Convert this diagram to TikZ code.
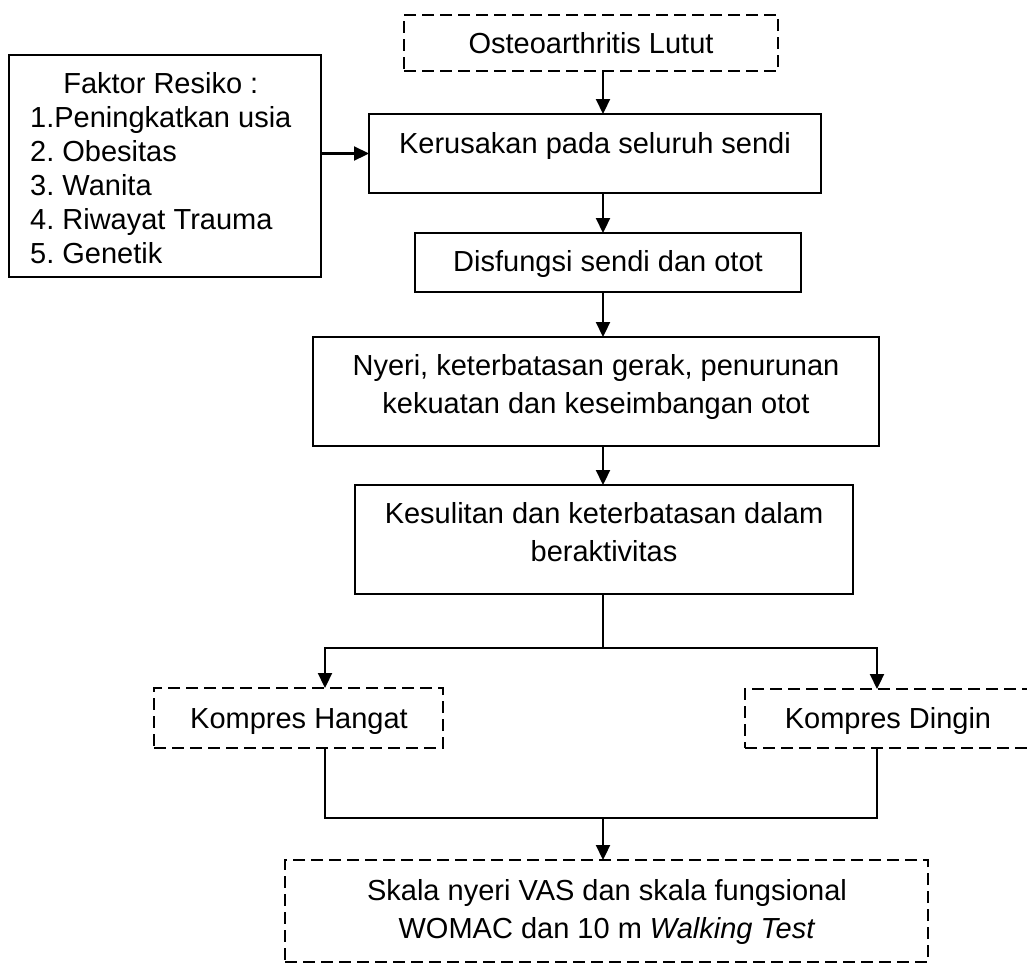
\documentclass[tikz,border=0pt]{standalone}
\usepackage{fontspec}
\setmainfont{Liberation Sans}
\usetikzlibrary{arrows.meta}
\frenchspacing
\newcommand\twolines[2]{\begin{tabular}[t]{@{}c@{}}#1\\#2\end{tabular}}
\begin{document}
\begin{tikzpicture}[x=1pt,y=-1pt,
  box/.style={draw, line width=2.2pt, fill=white, inner sep=0pt, outer sep=0pt, anchor=north west},
  dbox/.style={box, dash pattern=on 12pt off 6pt},
  txt/.style={font=\fontsize{29}{38}\selectfont, inner sep=0pt, anchor=base},
  conn/.style={line width=2.2pt},
  arr/.style={conn, -{Triangle[length=15pt,width=14pt]}}]
\useasboundingbox (0,0) rectangle (1027,967);
\clip (0,0) rectangle (1027,967);
\fill[white] (0,0) rectangle (1027,967);

% boxes
\node[dbox, minimum width=374pt, minimum height=56pt] (osteo) at (404,15) {};
\node[box, minimum width=312pt, minimum height=222pt] (faktor) at (9,55) {};
\node[box, minimum width=452pt, minimum height=79pt] (keru) at (369,114) {};
\node[box, minimum width=386pt, minimum height=59pt] (disf) at (415,233) {};
\node[box, minimum width=566pt, minimum height=109pt] (nyeri) at (313,337) {};
\node[box, minimum width=498pt, minimum height=109pt] (kes) at (355,485) {};
\node[dbox, minimum width=289pt, minimum height=60pt] (hangat) at (154,688) {};
\node[dbox, minimum width=286pt, minimum height=59pt] (dingin) at (745,689) {};
\node[dbox, minimum width=643pt, minimum height=102pt] (skala) at (285,860) {};

% texts
\node[txt] (tosteo) at (591,53) {Osteoarthritis Lutut};
\node[txt] (tkeru) at (595,153) {Kerusakan pada seluruh sendi};
\node[txt] (tdisf) at (608,271) {Disfungsi sendi dan otot};
\node[txt, font=\fontsize{29}{34}\selectfont, anchor=base west] (tfaktor) at (30,93)
  {\begin{tabular}[t]{@{}l@{}}\multicolumn{1}{@{}c@{}}{Faktor Resiko :}\\
   1.Peningkatkan usia\\2. Obesitas\\3. Wanita\\4. Riwayat Trauma\\5. Genetik\end{tabular}};
\node[txt] (tnyeri) at (596,375) {\twolines{Nyeri, keterbatasan gerak, penurunan}{kekuatan dan keseimbangan otot}};
\node[txt] (tkes) at (604,523) {\twolines{Kesulitan dan keterbatasan dalam}{beraktivitas}};
\node[txt] (thangat) at (299,728) {Kompres Hangat};
\node[txt] (tdingin) at (888,728) {Kompres Dingin};
\node[txt] (tskala) at (607,900) {\twolines{Skala nyeri VAS dan skala fungsional}{WOMAC dan 10 m \textit{Walking Test}}};

% helper coordinates
\coordinate (ax) at (603,0);
\coordinate (hx) at (325,0);
\coordinate (dx) at (877,0);
\coordinate (split) at (603,648);
\coordinate (join) at (603,818);

% connectors
\draw[arr] (osteo.south -| ax) -- (keru.north -| ax);
\draw[arr] (faktor.east |- keru.west) -- (keru.west);
\draw[arr] (keru.south -| ax) -- (disf.north -| ax);
\draw[arr] (disf.south -| ax) -- (nyeri.north -| ax);
\draw[arr] (nyeri.south -| ax) -- (kes.north -| ax);
\draw[conn] (kes.south -| ax) -- (split);
\draw[arr] (split) -| (hangat.north -| hx);
\draw[arr] (split) -| (dingin.north -| dx);
\draw[conn] (hangat.south -| hx) |- (join);
\draw[conn] (dingin.south -| dx) |- (join);
\draw[arr] (join) -- (skala.north -| ax);
\end{tikzpicture}
\end{document}
